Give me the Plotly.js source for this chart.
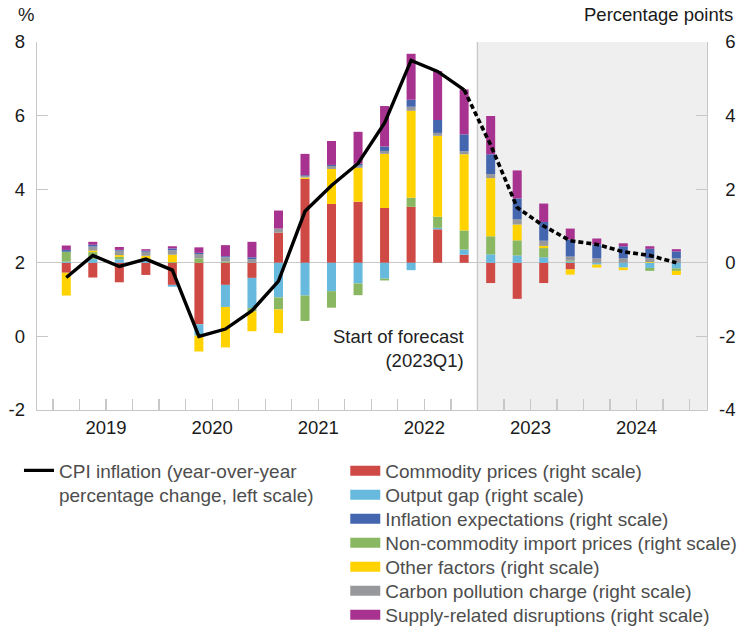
<!DOCTYPE html>
<html>
<head>
<meta charset="utf-8">
<script src="https://cdn.plot.ly/plotly-3.0.1.min.js"></script>
<style>
  body { margin: 0; background: #fff; }
  #chart { width: 738px; height: 629px; }
</style>
</head>
<body>
<div id="chart"></div>
<script>
// Quarters shown on the chart, 2023Q1 onward is projection
const quarters = ['2019Q1', '2019Q2', '2019Q3', '2019Q4', '2020Q1', '2020Q2', '2020Q3', '2020Q4',
                  '2021Q1', '2021Q2', '2021Q3', '2021Q4', '2022Q1', '2022Q2', '2022Q3', '2022Q4',
                  '2023Q1', '2023Q2', '2023Q3', '2023Q4', '2024Q1', '2024Q2', '2024Q3', '2024Q4'];
const years = ['2019', '2020', '2021', '2022', '2023', '2024'];
const forecastStart = '2023Q1';

// CPI inflation, y/y % (left scale)
const cpiInflation = [1.6, 2.2, 1.9, 2.1, 1.8, 0.0, 0.2, 0.7,
                      1.5, 3.4, 4.1, 4.7, 5.8, 7.5, 7.2, 6.7,
                      5.2, 3.5, 3.0, 2.6, 2.5, 2.3, 2.2, 2.0];

// contributions, percentage points (right scale)
const commodityPrices = [-0.27, -0.40, -0.53, -0.33, -0.60, -1.67, -0.60, -0.41,
                         0.82, 2.28, 1.60, 1.66, 1.49, 1.52, 0.91, 0.22,
                         -0.55, -0.98, -0.55, -0.18, 0, 0, 0, 0];
const outputGap = [0.03, 0.10, 0.09, 0.07, -0.05, -0.31, -0.60, -0.82,
                   -0.94, -0.89, -0.77, -0.56, -0.43, -0.20, 0.04, 0.14,
                   0.23, 0.20, 0.15, 0.03, -0.05, -0.13, -0.14, -0.15];
const nonCommodityImport = [0.27, 0.19, 0.07, 0, 0.02, 0.12, 0.03, -0.09,
                            -0.33, -0.69, -0.45, -0.32, -0.05, 0.25, 0.30, 0.52,
                            0.49, 0.41, 0.25, 0.03, 0, 0, -0.08, -0.07];
const otherFactors = [-0.62, 0.04, 0.05, 0.12, 0.20, -0.43, -1.10, -0.54,
                      -0.64, 0.04, 0.95, 0.92, 1.47, 2.36, 2.20, 2.07,
                      1.58, 0.43, 0.06, -0.14, -0.08, -0.07, 0.02, -0.11];
const carbonCharge = [0, 0.11, 0.12, 0.11, 0.12, 0.12, 0.12, 0.10,
                      0.11, 0.03, 0.08, 0.06, 0.08, 0.11, 0.08, 0.08,
                      0.11, 0.14, 0.14, 0.11, 0.12, 0.12, 0.10, 0.12];
const inflationExpectations = [0.05, 0.05, 0.02, 0.03, 0.05, 0.03, 0.03, 0.05,
                               0, 0.03, 0.03, 0.05, 0.12, 0.19, 0.35, 0.46,
                               0.54, 0.57, 0.51, 0.46, 0.38, 0.33, 0.26, 0.19];
const supplyDisruptions = [0.12, 0.08, 0.08, 0.04, 0.06, 0.15, 0.30, 0.42,
                           0.49, 0.58, 0.65, 0.87, 1.10, 1.25, 1.33, 1.22,
                           1.04, 0.76, 0.50, 0.30, 0.16, 0.08, 0.07, 0.06];

const leftTicks = [-2, 0, 2, 4, 6, 8];
const rightTicks = [-4, -2, 0, 2, 4, 6];

// quarter label -> position on a continuous year axis (middle of the quarter)
function qx(q) {
    return +q.slice(0, 4) + (+q.slice(5) - 0.5) / 4;
}

const xs = quarters.map(qx);
const xRange = [2018.849, 2025.164];
const forecastX = qx(forecastStart) - 0.125;
const fi = quarters.indexOf(forecastStart);

// stacking order (bottom to top); row = position in the legend
const barSeries = [
    {name: 'Commodity prices (right scale)', values: commodityPrices, color: '#cf4a45', row: 0},
    {name: 'Output gap (right scale)', values: outputGap, color: '#67b9de', row: 1},
    {name: 'Non-commodity import prices (right scale)', values: nonCommodityImport, color: '#8ab862', row: 3},
    {name: 'Other factors (right scale)', values: otherFactors, color: '#ffd200', row: 4},
    {name: 'Carbon pollution charge (right scale)', values: carbonCharge, color: '#97989b', row: 5},
    {name: 'Inflation expectations (right scale)', values: inflationExpectations, color: '#4466af', row: 2},
    {name: 'Supply-related disruptions (right scale)', values: supplyDisruptions, color: '#a8328f', row: 6}
];

var data = [];

barSeries.forEach(function(s) {
    data.push({
        type: 'bar',
        x: xs,
        y: s.values,
        width: 0.085,
        marker: {color: s.color, line: {width: 0}},
        yaxis: 'y',
        legendgroup: s.name,
        showlegend: false
    });
});

// legend swatches (wide rectangles like the original)
barSeries.forEach(function(s) {
    data.push({
        type: 'scatter',
        mode: 'lines',
        x: [null],
        y: [null],
        name: s.name,
        line: {color: s.color, width: 13},
        legendgroup: s.name,
        legend: 'legend' + (s.row + 2)
    });
});

data.push({
    type: 'scatter',
    mode: 'lines',
    x: xs.slice(0, fi),
    y: cpiInflation.slice(0, fi),
    yaxis: 'y2',
    name: 'CPI inflation (year-over-year<br>percentage change, left scale)',
    line: {color: '#000', width: 3.4},
    legend: 'legend'
});
data.push({
    type: 'scatter',
    mode: 'lines',
    x: xs.slice(fi - 1),
    y: cpiInflation.slice(fi - 1),
    yaxis: 'y2',
    line: {color: '#000', width: 3.6, dash: '5px,3px'},
    showlegend: false
});

const axisGrey = '#c8c8c8';
const plotTop = 42, plotBottom = 410;
function paperY(py) { return (plotBottom - py) / (plotBottom - plotTop); }
function paperX(px) { return (px - 37) / 669.4; }

const legendFont = {family: 'Liberation Sans, Arial, sans-serif', size: 19, color: '#4d4d4d'};

var layout = {
    width: 738,
    height: 629,
    margin: {l: 37, r: 31, t: plotTop, b: 629 - plotBottom, autoexpand: false},
    paper_bgcolor: '#fff',
    plot_bgcolor: '#fff',
    font: {family: 'Liberation Sans, Arial, sans-serif', size: 18.5, color: '#1a1a1a'},
    barmode: 'relative',
    hovermode: false,
    xaxis: {
        range: xRange,
        tickmode: 'array',
        tickvals: years.map(function(y) { return +y + 0.5; }),
        ticktext: years,
        ticks: '',
        ticklabelstandoff: 0,
        showgrid: false,
        zeroline: false,
        showline: true,
        linecolor: axisGrey,
        linewidth: 1.3,
        minor: {
            tickmode: 'array',
            tickvals: xs.map(function(x) { return x - 0.125; }).concat([2025]),
            ticks: 'inside',
            ticklen: 11,
            tickwidth: 1.3,
            tickcolor: axisGrey,
            showgrid: false
        }
    },
    // right scale: contributions
    yaxis: {
        side: 'right',
        range: [-4, 6],
        tickmode: 'array',
        tickvals: rightTicks,
        ticktext: rightTicks.map(function(v) { return v < 0 ? '-' + Math.abs(v) : '\u2004' + v; }),
        ticks: 'inside',
        ticklen: 11,
        tickwidth: 1.3,
        tickcolor: axisGrey,
        ticklabelstandoff: 7,
        showline: true,
        linecolor: axisGrey,
        linewidth: 1.3,
        showgrid: false,
        zeroline: true,
        zerolinecolor: axisGrey,
        zerolinewidth: 1.3
    },
    // left scale: CPI inflation
    yaxis2: {
        overlaying: 'y',
        side: 'left',
        range: [-2, 8],
        tickmode: 'array',
        tickvals: leftTicks,
        ticktext: leftTicks.map(function(v) { return v < 0 ? '-' + Math.abs(v) : '' + v; }),
        ticks: 'inside',
        ticklen: 11,
        tickwidth: 1.3,
        tickcolor: axisGrey,
        ticklabelstandoff: 7,
        showline: true,
        linecolor: axisGrey,
        linewidth: 1.3,
        showgrid: false,
        zeroline: false
    },
    shapes: [
        {type: 'rect', xref: 'x', yref: 'paper', x0: forecastX, x1: xRange[1], y0: 0, y1: 1,
         fillcolor: '#efefef', line: {width: 0}, layer: 'below'},
        {type: 'line', xref: 'x', yref: 'paper', x0: forecastX, x1: forecastX, y0: 0, y1: 1,
         line: {color: axisGrey, width: 1.3}, layer: 'below'}
    ],
    annotations: [
        {text: '%', xref: 'paper', yref: 'paper', x: paperX(16), y: paperY(15),
         xanchor: 'left', yanchor: 'middle', showarrow: false},
        {text: 'Percentage points', xref: 'paper', yref: 'paper', x: paperX(734), y: paperY(15),
         xanchor: 'right', yanchor: 'middle', showarrow: false},
        {text: 'Start of forecast<br>(' + forecastStart + ')', xref: 'x', yref: 'y2',
         x: forecastX, y: -0.32, xshift: -11, xanchor: 'right', yanchor: 'middle',
         align: 'right', showarrow: false, font: {color: '#222'}}
    ],
    legend: {
        x: paperX(19), y: paperY(483), xanchor: 'left', yanchor: 'middle',
        valign: 'top', bgcolor: 'rgba(0,0,0,0)', font: legendFont
    }
};

// one legend box per row so the rows sit 24px apart like the original
barSeries.forEach(function(s) {
    layout['legend' + (s.row + 2)] = {
        x: paperX(345), y: paperY(471 + 24 * s.row), xanchor: 'left', yanchor: 'middle',
        bgcolor: 'rgba(0,0,0,0)', font: legendFont
    };
});

Plotly.newPlot('chart', data, layout, {displayModeBar: false, staticPlot: true});
</script>
</body>
</html>
